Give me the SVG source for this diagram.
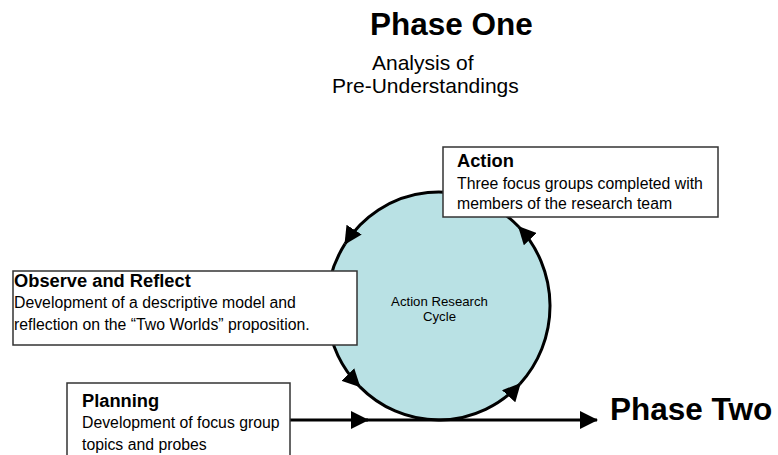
<svg xmlns="http://www.w3.org/2000/svg" width="778" height="455" viewBox="0 0 778 455">
  <style>
    text { font-family: "Liberation Sans", Arial, sans-serif; fill: #000; }
    .phase { font-size: 31.5px; font-weight: bold; }
    .sub { font-size: 21px; }
    .head { font-size: 18.3px; font-weight: bold; }
    .body { font-size: 15.8px; }
    .box { fill: #fff; stroke: #333; stroke-width: 1.5; }
    .flow { fill: none; stroke: #000; stroke-width: 3; }
  </style>
  <defs>
    <marker id="arrow" markerUnits="userSpaceOnUse" markerWidth="18" markerHeight="18"
            viewBox="0 0 18 18" refX="17" refY="9" orient="auto">
      <path d="M0,0 L18,9 L0,18 Z" fill="#000"/>
    </marker>
  </defs>

  <rect width="778" height="455" fill="#fff"/>

  <!-- headings -->
  <g id="phase-one">
    <text class="phase" x="370" y="35">Phase One</text>
    <text class="sub" x="372" y="70">Analysis of</text>
    <text class="sub" x="332" y="93">Pre-Understandings</text>
  </g>

  <!-- cycle body -->
  <g id="cycle">
    <ellipse cx="438.5" cy="306" rx="111.5" ry="114" fill="#B9E1E4"/>
    <text x="439.5" y="306" font-size="13.2" text-anchor="middle">Action Research</text>
    <text x="439.5" y="321" font-size="13.2" text-anchor="middle">Cycle</text>
  </g>

  <!-- connectors: cycle arcs and the phase line -->
  <g id="connectors" class="flow">
    <path d="M518.7,226.8 A111.5,114 0 0 0 345.0,243.9" marker-end="url(#arrow)"/>
    <path d="M345.0,243.9 A111.5,114 0 0 0 359.7,386.6" marker-end="url(#arrow)"/>
    <path d="M359.7,386.6 A111.5,114 0 0 0 520.1,383.7" marker-end="url(#arrow)"/>
    <path d="M520.1,383.7 A111.5,114 0 0 0 518.7,226.8" marker-end="url(#arrow)"/>
    <path d="M290,420 H368" marker-end="url(#arrow)"/>
    <path d="M366,420 H597" marker-end="url(#arrow)"/>
  </g>

  <g id="action">
    <rect class="box" x="443" y="147" width="275" height="70"/>
    <text class="head" x="457" y="167">Action</text>
    <text class="body" x="457" y="189">Three focus groups completed with</text>
    <text class="body" x="457" y="209">members of the research team</text>
  </g>

  <g id="observe">
    <rect class="box" x="13" y="271" width="344" height="74"/>
    <text class="head" x="14" y="287">Observe and Reflect</text>
    <text class="body" x="14" y="308">Development of a descriptive model and</text>
    <text class="body" x="14" y="330">reflection on the “Two Worlds” proposition.</text>
  </g>

  <g id="planning">
    <rect class="box" x="67" y="383" width="223" height="90"/>
    <text class="head" x="82" y="407">Planning</text>
    <text class="body" x="82" y="428">Development of focus group</text>
    <text class="body" x="82" y="450">topics and probes</text>
  </g>

  <g id="phase-two">
    <text class="phase" x="610" y="420">Phase Two</text>
  </g>
</svg>
